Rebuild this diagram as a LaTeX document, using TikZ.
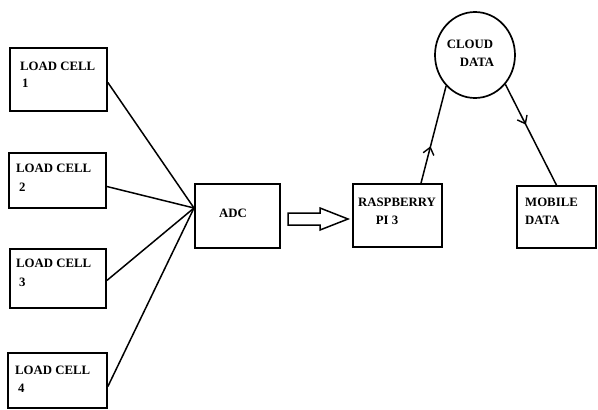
\documentclass[tikz,border=0pt]{standalone}
\usepackage{fontspec}
\setmainfont{Liberation Serif}
\usetikzlibrary{shapes.geometric,arrows.meta,decorations.markings}
\begin{document}
\begin{tikzpicture}[x=1pt,y=1pt,
  box/.style={draw,line width=1.7pt,inner sep=0pt},
  lbl/.style={inner sep=0pt,anchor=west,font=\bfseries\fontsize{12.8}{14}\selectfont},
  clbl/.style={inner sep=0pt,font=\bfseries\fontsize{12.8}{14}\selectfont},
  conn/.style={line width=1.5pt},
  midarrow/.style={postaction={decorate},decoration={markings,mark=at position #1 with {\arrow{Straight Barb[length=7pt,width=11pt,line width=1.4pt]}}}}
]
\useasboundingbox (0,0) rectangle (598,-410);
% load cells
\node[box,minimum width=97,minimum height=63] (lc1) at (58.5,-79.5) {};
\node[box,minimum width=97,minimum height=55] (lc2) at (57.5,-180.5) {};
\node[box,minimum width=96,minimum height=59] (lc3) at (58,-278.5) {};
\node[box,minimum width=99,minimum height=55] (lc4) at (57.5,-380.5) {};
\node[lbl] (t1a) at (20,-66) {LOAD CELL};
\node[lbl] (t1b) at (22,-83) {1};
\node[lbl] (t2a) at (16,-168) {LOAD CELL};
\node[lbl] (t2b) at (19,-187) {2};
\node[lbl] (t3a) at (16,-263) {LOAD CELL};
\node[lbl] (t3b) at (19,-282) {3};
\node[lbl] (t4a) at (15,-370) {LOAD CELL};
\node[lbl] (t4b) at (18,-388) {4};
% ADC
\node[box,minimum width=85,minimum height=64] (adc) at (237.5,-216) {};
\node[clbl] (tadc) at (233,-213) {ADC};
\coordinate (hub) at (194,-208);
\draw[conn] ([yshift=-3]lc1.east) -- (hub);
\draw[conn] ([yshift=-6]lc2.east) -- (hub);
\draw[conn] ([yshift=-2]lc3.east) -- (hub);
\draw[conn] ([yshift=-6]lc4.east) -- (hub);
% Raspberry
\node[box,minimum width=89,minimum height=63] (rasp) at (397.5,-215.5) {};
\node[clbl] (tr1) at (397,-202) {RASPBERRY};
\node[clbl] (tr2) at (387,-220) {PI 3};
% hollow arrow
\draw[line width=1.5pt,line join=miter]
  (288,-213) -- (320,-213) -- (320,-208) -- (348,-219) -- (320,-230) -- (320,-225) -- (288,-225) -- cycle;
% Mobile
\node[box,minimum width=79,minimum height=62] (mob) at (556.5,-217) {};
\node[lbl] (tm1) at (525,-202) {MOBILE};
\node[lbl] (tm2) at (525,-220) {DATA};
% Cloud
\node[draw,ellipse,line width=1.7pt,minimum width=80,minimum height=86,inner sep=0pt] (cloud) at (475,-55) {};
\node[clbl] (tc1) at (470,-44) {CLOUD};
\node[clbl] (tc2) at (477,-62) {DATA};
\coordinate (rtop) at ([xshift=23.5]rasp.north);
\draw[conn,midarrow=0.38] (rtop) -- (cloud.227);
\draw[conn,midarrow=0.4] (cloud.316) -- (mob.north);
\end{tikzpicture}
\end{document}
